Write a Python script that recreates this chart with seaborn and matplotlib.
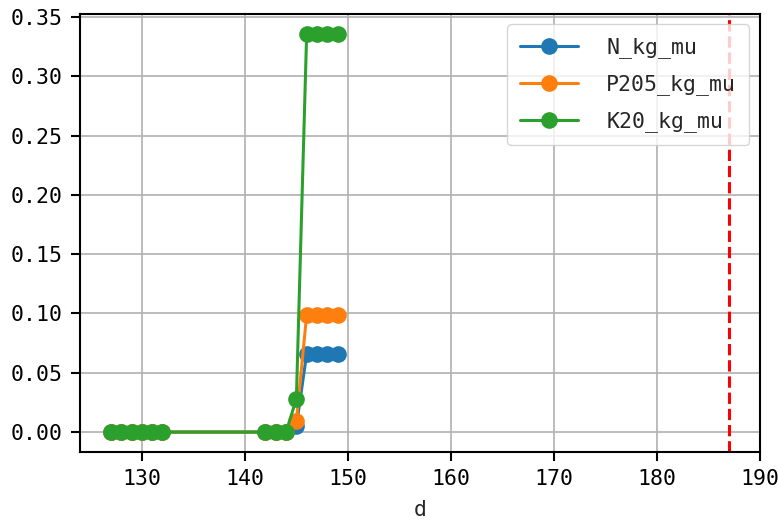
import matplotlib
matplotlib.use("Agg")
import matplotlib.pyplot as plt
import seaborn as sns
import pandas as pd

# values
days = [127, 128, 129, 130, 131, 132, 142, 143, 144, 145, 146, 147, 148, 149]
n_kg_mu = [0, 0, 0, 0, 0, 0, 0, 0, 0, 0.005, 0.066, 0.066, 0.066, 0.066]
p205_kg_mu = [0, 0, 0, 0, 0, 0, 0, 0, 0, 0.009, 0.099, 0.099, 0.099, 0.099]
k20_kg_mu = [0, 0, 0, 0, 0, 0, 0, 0, 0, 0.028, 0.336, 0.336, 0.336, 0.336]
series_names = ["N_kg_mu", "P205_kg_mu", "K20_kg_mu"]
cutoff_day = 187

df = pd.DataFrame({"d": days, "N_kg_mu": n_kg_mu,
                   "P205_kg_mu": p205_kg_mu, "K20_kg_mu": k20_kg_mu})

sns.set_style("ticks")
plt.rcParams['font.family'] = ['DejaVu Sans Mono']
plt.rcParams['font.size'] = 15.5

fig, ax = plt.subplots(figsize=(7.78, 5.23), dpi=100)
colors = sns.color_palette("tab10", 3)
for name, c in zip(series_names, colors):
    sns.lineplot(data=df, x="d", y=name, ax=ax, color=c, marker="o",
                 markersize=12, markeredgewidth=0, linewidth=2.2, label=name)

ax.axvline(cutoff_day, color="red", linestyle="--", linewidth=2.2)
ax.grid(True, color="#b0b0b0", linewidth=1.2)
ax.set_ylabel("")
ax.set_xlabel("d", labelpad=8)
ax.set_xticks([130, 140, 150, 160, 170, 180, 190])
ax.set_yticks([0, 0.05, 0.10, 0.15, 0.20, 0.25, 0.30, 0.35])
ax.set_yticklabels(["0.00", "0.05", "0.10", "0.15", "0.20", "0.25", "0.30", "0.35"])
ax.set_xlim(124, 190)
ax.set_ylim(-0.0168, 0.3528)
for s in ax.spines.values():
    s.set_color("black")
    s.set_linewidth(1.5)
ax.tick_params(length=6.5, width=1.5, pad=6, color="black", labelcolor="black")
ax.legend(loc="upper right", handlelength=2.7, handletextpad=1.3,
          labelspacing=0.75, borderpad=0.6, framealpha=0.8)

fig.subplots_adjust(left=80/778, right=760/778, top=1-13.6/523, bottom=1-452/523)
fig.savefig("out.png", dpi=100)
